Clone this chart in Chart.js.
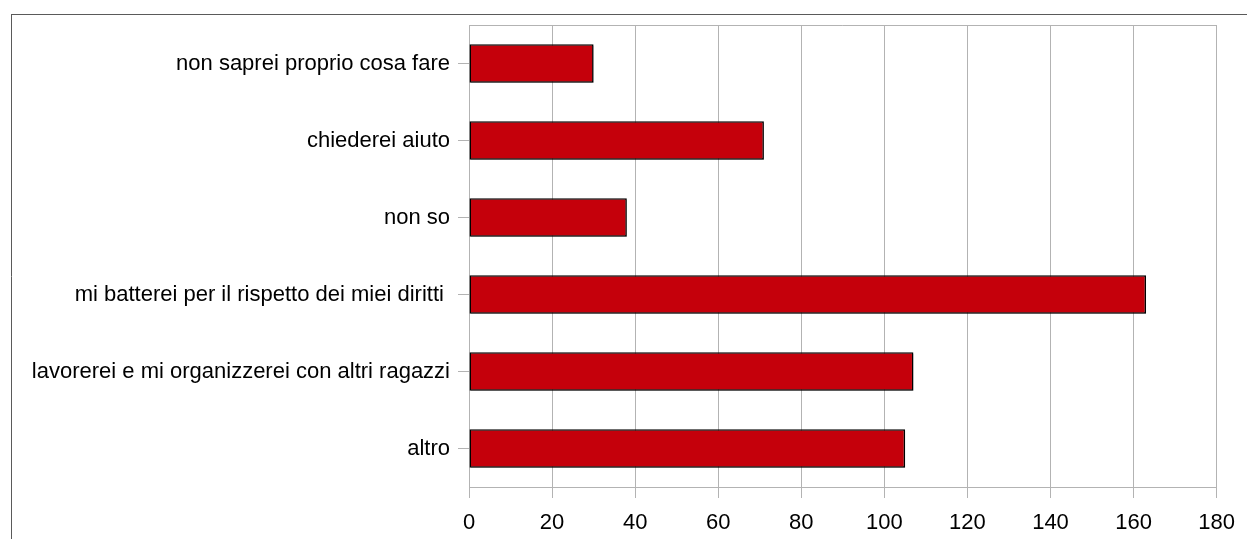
<!DOCTYPE html>
<html>
<head>
<meta charset="utf-8">
<script src="https://cdn.jsdelivr.net/npm/chart.js@4"></script>
<style>
html,body{margin:0;padding:0;background:#fff;}
#wrap{position:relative;width:1247px;height:539px;}
</style>
</head>
<body>
<div id="wrap"><canvas id="c" width="1247" height="539"></canvas></div>
<script>
const categories = [
  "non saprei proprio cosa fare",
  "chiederei aiuto",
  "non so",
  "mi batterei per il rispetto dei miei diritti ",
  "lavorerei e mi organizzerei con altri ragazzi",
  "altro"
];
const values = [30, 71, 38, 163, 107, 105];
const xTicks = [0, 20, 40, 60, 80, 100, 120, 140, 160, 180];

const framePlugin = {
  id: 'frame',
  beforeDraw(chart) {
    const ctx = chart.ctx;
    ctx.save();
    ctx.fillStyle = '#fff';
    ctx.fillRect(0, 0, chart.width, chart.height);
    ctx.strokeStyle = '#5a5a5a';
    ctx.lineWidth = 1;
    ctx.beginPath();
    ctx.moveTo(11, 14.5); ctx.lineTo(chart.width, 14.5);
    ctx.moveTo(11.5, 14); ctx.lineTo(11.5, chart.height);
    ctx.stroke();
    ctx.restore();
  },
  beforeDatasetsDraw(chart) {
    const a = chart.chartArea;
    const ctx = chart.ctx;
    ctx.save();
    ctx.strokeStyle = '#b3b3b3';
    ctx.lineWidth = 1;
    ctx.beginPath();
    ctx.moveTo(a.left, a.top + 0.5); ctx.lineTo(a.right, a.top + 0.5);
    ctx.stroke();
    ctx.restore();
  },
  beforeDatasetDraw(chart) {
    const ctx = chart.ctx;
    ctx.save();
    ctx.shadowColor = 'rgba(0,0,0,0.25)';
    ctx.shadowOffsetX = 1.5;
    ctx.shadowOffsetY = 1.5;
    ctx.shadowBlur = 0;
  },
  afterDatasetDraw(chart) {
    chart.ctx.restore();
  }
};

new Chart(document.getElementById('c'), {
  type: 'bar',
  data: {
    labels: categories,
    datasets: [{
      data: values,
      backgroundColor: '#c5000b',
      borderColor: '#000000',
      borderWidth: 1.5,
      borderSkipped: false,
      barPercentage: 0.5,
      categoryPercentage: 1.0
    }]
  },
  options: {
    indexAxis: 'y',
    responsive: false,
    animation: false,
    devicePixelRatio: 1,
    layout: { padding: { top: 25, right: 30, left: 0, bottom: 0 } },
    plugins: { legend: { display: false }, tooltip: { enabled: false } },
    scales: {
      x: {
        type: 'linear',
        min: 0, max: 180,
        afterBuildTicks(scale) { scale.ticks = xTicks.map(v => ({ value: v })); },
        afterFit(scale) { scale.height = 52; },
        grid: { color: '#b3b3b3', lineWidth: 1, tickLength: 11, drawTicks: true },
        border: { display: true, color: '#b3b3b3' },
        ticks: { color: '#000', font: { family: 'Liberation Sans', size: 22 }, padding: 12, maxRotation: 0 }
      },
      y: {
        afterFit(scale) { scale.width = 469; },
        grid: { drawOnChartArea: false, offset: false, color: '#b3b3b3', tickLength: 11 },
        border: { display: true, color: '#b3b3b3' },
        ticks: { color: '#000', font: { family: 'Liberation Sans', size: 22 }, padding: 8 }
      }
    }
  },
  plugins: [framePlugin]
});
</script>
</body>
</html>
